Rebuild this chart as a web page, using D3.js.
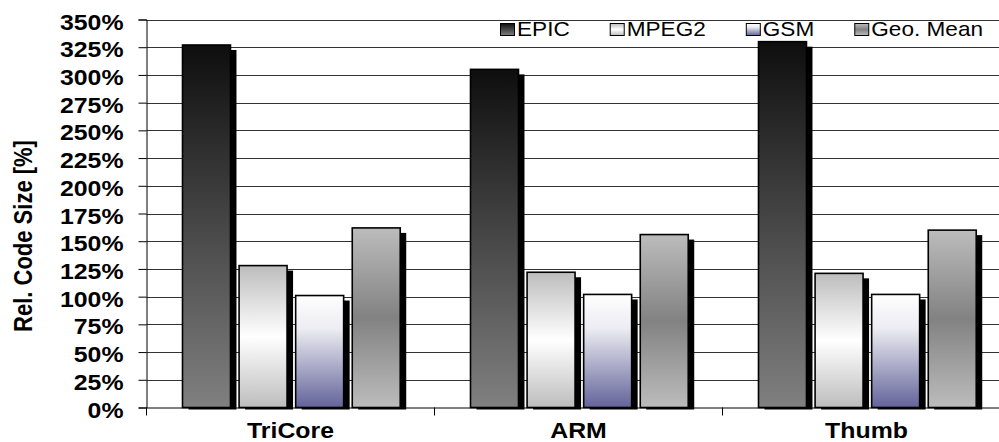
<!DOCTYPE html>
<html><head><meta charset="utf-8">
<script src="https://cdn.jsdelivr.net/npm/d3@7"></script>
<style>body{margin:0;background:#fff}svg{display:block}svg text{font-family:"Liberation Sans",Arial,sans-serif !important}</style>
</head><body><svg id="c" width="999" height="442"></svg>
<script>
const categories = ["TriCore", "ARM", "Thumb"];
const seriesNames = ["EPIC", "MPEG2", "GSM", "Geo. Mean"];
const epic  = [327, 305, 330];
const mpeg2 = [128, 122, 121];
const gsm   = [101, 102, 102];
const geo   = [162, 156, 160];
const yTicks = [0,25,50,75,100,125,150,175,200,225,250,275,300,325,350];
const yTitle = "Rel. Code Size [%]";

(function(){
const seriesValues = [epic, mpeg2, gsm, geo];
const SX = 1.13;
const FF = "'Liberation Sans', Arial, sans-serif";
const svg = d3.select("#c");
const pLeft = 146.5, pTop = 19.5, pBottom = 407.5;

const defs = svg.append("defs");
function grad(id, stops){
  const g = defs.append("linearGradient").attr("id", id).attr("x1",0).attr("y1",0).attr("x2",0).attr("y2",1);
  stops.forEach(s => g.append("stop").attr("offset", s[0]).attr("stop-color", s[1]));
}
grad("g0", [[0,"#0e0e0e"],[1,"#808080"]]);
grad("g1", [[0,"#bdbdbd"],[0.5,"#ffffff"],[1,"#bdbdbd"]]);
grad("g2", [[0,"#ffffff"],[0.3,"#ececf2"],[1,"#63639a"]]);
grad("g3", [[0,"#bcbcbc"],[0.5,"#828282"],[1,"#bcbcbc"]]);
const fills = ["url(#g0)","url(#g1)","url(#g2)","url(#g3)"];

const y = d3.scaleLinear().domain([0,350]).range([pBottom, pTop]);
const x0 = d3.scaleBand().domain(categories).range([pLeft, pLeft + 3*288]);
const x1 = d3.scaleBand().domain(seriesNames)
  .range([x0.bandwidth()*0.125, x0.bandwidth()*0.881]).paddingInner(0.152).paddingOuter(0);

// gridlines
svg.append("g").selectAll("line").data(yTicks.filter(t => t > 0)).join("line")
  .attr("x1", pLeft).attr("x2", 999)
  .attr("y1", d => Math.round(y(d)) + 0.5).attr("y2", d => Math.round(y(d)) + 0.5)
  .attr("stroke", "#333").attr("stroke-width", 1);

// y axis
const yAxis = d3.axisLeft(y).tickValues(yTicks).tickSize(8).tickFormat(d => d + "%");
const ga = svg.append("g").attr("transform", `translate(${pLeft},0)`).call(yAxis)
  .attr("font-family", FF);
ga.select(".domain").attr("stroke", "#000");
ga.selectAll(".tick line").attr("stroke", "#000");
ga.selectAll(".tick text").attr("x", null).attr("dy", null)
  .attr("transform", "translate(-23,9.5) scale(" + SX + ",1)")
  .attr("font-size", 22).attr("font-weight", "bold").attr("fill", "#000");

// bars
const groups = svg.append("g").selectAll("g").data(categories).join("g")
  .attr("transform", d => `translate(${x0(d)},0)`);
groups.each(function(cat, ci){
  const g = d3.select(this);
  seriesNames.forEach((s, si) => {
    const v = seriesValues[si][ci];
    const bx = x1(s), bw = x1.bandwidth();
    g.append("rect").attr("x", bx + 6).attr("y", y(v) + 5)
      .attr("width", bw).attr("height", pBottom + 2 - (y(v) + 5)).attr("fill", "#000");
    g.append("rect").attr("x", bx).attr("y", y(v))
      .attr("width", bw).attr("height", pBottom - y(v))
      .attr("fill", fills[si]).attr("stroke", "#000").attr("stroke-width", 1.6);
  });
});

// x axis
const xAxis = d3.axisBottom(x0).tickSize(0).tickFormat(d => d);
const gx = svg.append("g").attr("transform", `translate(0,${pBottom})`).call(xAxis)
  .attr("font-family", FF);
gx.select(".domain").attr("stroke", "#000");
gx.selectAll(".tick text").attr("y", null).attr("dy", null)
  .attr("transform", "translate(0,30) scale(" + SX + ",1)")
  .attr("font-size", 22).attr("font-weight", "bold").attr("fill", "#000");
// category boundary ticks
svg.append("g").selectAll("line").data(d3.range(categories.length + 1)).join("line")
  .attr("x1", i => pLeft + i * x0.step()).attr("x2", i => pLeft + i * x0.step())
  .attr("y1", pBottom).attr("y2", pBottom + 8).attr("stroke", "#000");

// y title
svg.append("text").attr("transform", `translate(32,236) scale(${SX},1) rotate(-90)`)
  .attr("font-family", FF)
  .attr("text-anchor", "middle").attr("font-size", 22).attr("font-weight", "bold").text(yTitle);

// legend
let lx = 500;
seriesNames.forEach((s, si) => {
  svg.append("rect").attr("x", lx + 0.5).attr("y", 23.5).attr("width", 14).attr("height", 12)
    .attr("fill", fills[si]).attr("stroke", "#000").attr("stroke-width", 1);
  const t = svg.append("text").attr("transform", `translate(${lx + 17},36) scale(${SX},1)`)
    .attr("font-family", FF).attr("font-size", 20).attr("fill", "#000").text(s);
  lx = lx + 17 + t.node().getComputedTextLength() * SX + 40;
});
})();
</script></body></html>
